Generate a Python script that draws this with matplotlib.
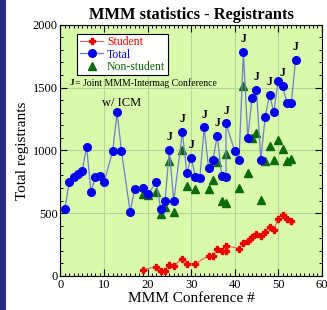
import matplotlib
matplotlib.use("Agg")
import matplotlib.pyplot as plt
from matplotlib.ticker import MultipleLocator
from matplotlib.patches import Rectangle

plt.rcParams['font.family'] = ['Liberation Serif', 'DejaVu Serif']

# total registrants
total_x = [1, 2, 3, 4, 5, 6, 7, 8, 9, 10, 12, 13, 14, 16, 17, 19, 20, 22, 23, 24,
           25, 26, 28, 29, 30, 31, 32, 33, 34, 35, 36, 37, 38, 38, 40, 41, 42, 43,
           44, 45, 46, 47, 48, 49, 50, 51, 52, 53, 54]
total_y = [531, 746, 791, 813, 839, 1027, 672, 789, 794, 746, 995, 1302, 995, 508,
           691, 704, 650, 745, 532, 594, 1004, 594, 1145, 818, 940, 791, 783, 1182,
           858, 922, 1118, 797, 786, 1214, 996, 924, 1782, 1100, 1420, 1482, 927,
           1265, 1442, 1304, 1556, 1514, 1376, 1376, 1723]

# students
student_x = [19, 22, 23, 24, 25, 26, 28, 29, 31, 34, 35, 36, 37, 38, 38, 41, 42,
             43, 44, 45, 46, 47, 48, 49, 50, 51, 52, 53]
student_y = [48, 74, 37, 40, 90, 80, 138, 96, 98, 162, 157, 213, 199, 199, 241,
             218, 266, 276, 311, 334, 316, 348, 393, 367, 457, 486, 454, 436]

# non-students
nonstud_x = [19, 20, 22, 23, 24, 25, 26, 28, 29, 31, 34, 35, 36, 37, 38, 38, 41,
             42, 43, 44, 45, 46, 47, 48, 49, 50, 51, 52, 53]
nonstud_y = [655, 642, 665, 497, 548, 916, 510, 1002, 715, 690, 690, 760, 904,
             594, 582, 970, 701, 1514, 823, 1095, 1135, 608, 912, 1035, 926,
             1085, 1010, 912, 928]

# joint MMM-Intermag conferences (x, y of the point)
joint_x = [25, 28, 30, 33, 36, 38, 42, 45, 48, 51, 54]
joint_y = [1004, 1145, 940, 1182, 1118, 1214, 1782, 1482, 1442, 1514, 1723]

fig = plt.figure(figsize=(3.27, 3.10), dpi=100)
fig.patches.append(Rectangle((0, 0), 0.019, 1, transform=fig.transFigure,
                             facecolor='#2b2b85', edgecolor='none'))
ax = fig.add_axes([0.185, 0.11, 0.799, 0.81])
ax.set_facecolor('#d9f9ab')

ax.plot(student_x, student_y, color='#f06060', lw=0.8, marker='P', ms=4.5,
        mfc='#ee0000', mec='#ee0000', label='Student', zorder=3)
ax.plot(total_x, total_y, color='#6f7fd0', lw=0.9, marker='o', ms=5.5,
        mfc='#0000ee', mec='#0000ee', label='Total', zorder=3)
ax.plot(nonstud_x, nonstud_y, ls='none', marker='^', ms=5.5,
        mfc='#0b6b0b', mec='#0b6b0b', label='Non-student', zorder=2)

for x, y in zip(joint_x, joint_y):
    ax.text(x, y + 55, 'J', ha='center', va='bottom', fontsize=8.5,
            fontweight='bold')

ax.text(14.0, 1330, 'w/ ICM', ha='center', va='bottom', fontsize=9)
ax.text(2.0, 1535, 'J', ha='left', va='center', fontsize=6.5, fontweight='bold')
ax.text(3.3, 1535, '= Joint MMM-Intermag Conference', ha='left', va='center',
        fontsize=7)

ax.set_xlim(0, 60)
ax.set_ylim(0, 2000)
ax.xaxis.set_major_locator(MultipleLocator(10))
ax.xaxis.set_minor_locator(MultipleLocator(1))
ax.yaxis.set_major_locator(MultipleLocator(500))
ax.yaxis.set_minor_locator(MultipleLocator(100))
ax.tick_params(which='both', direction='in', top=True, right=True,
               labelsize=9, pad=2)
ax.tick_params(which='major', length=5, width=0.8)
ax.tick_params(which='minor', length=2.5, width=0.7)
ax.grid(True, which='major', color='#b5d59a', lw=0.8)
ax.set_axisbelow(True)

ax.set_title('MMM statistics - Registrants', fontsize=11.8, fontweight='bold',
             pad=4)
ax.set_xlabel('MMM Conference #', fontsize=11, labelpad=1)
ax.set_ylabel('Total registrants', fontsize=11, labelpad=3)

leg = ax.legend(loc='upper left', bbox_to_anchor=(0.065, 0.965), fontsize=8.5,
                frameon=True, fancybox=False, framealpha=1, edgecolor='black',
                handlelength=2.0, borderpad=0.2, labelspacing=0.05,
                handletextpad=0.3, borderaxespad=0)
leg.get_frame().set_linewidth(0.8)
for txt, c in zip(leg.get_texts(), ['#ee0000', '#0000ee', '#0b6b0b']):
    txt.set_color(c)

fig.savefig('out.png', dpi=100)
